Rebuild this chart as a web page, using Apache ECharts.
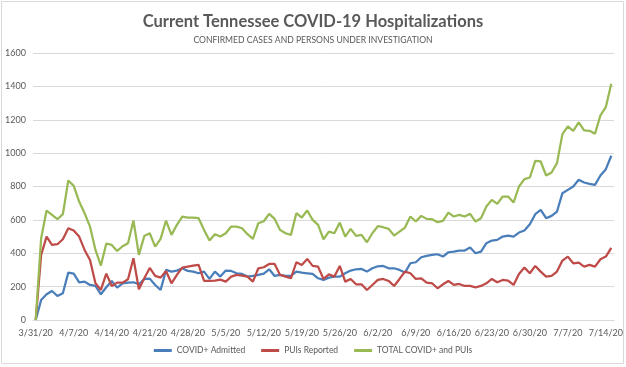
<!DOCTYPE html>
<html>
<head>
<meta charset="utf-8">
<script src="https://cdn.jsdelivr.net/npm/echarts@6/dist/echarts.min.js"></script>
<style>
html,body{margin:0;padding:0;background:#fff;}
#c{width:626px;height:367px;}
</style>
</head>
<body>
<div id="c"></div>
<script>
const categories = ["3/31/20",
"4/1/20","4/2/20","4/3/20","4/4/20","4/5/20","4/6/20","4/7/20","4/8/20","4/9/20","4/10/20",
"4/11/20","4/12/20","4/13/20","4/14/20","4/15/20","4/16/20","4/17/20","4/18/20","4/19/20","4/20/20",
"4/21/20","4/22/20","4/23/20","4/24/20","4/25/20","4/26/20","4/27/20","4/28/20","4/29/20","4/30/20",
"5/1/20","5/2/20","5/3/20","5/4/20","5/5/20","5/6/20","5/7/20","5/8/20","5/9/20","5/10/20",
"5/11/20","5/12/20","5/13/20","5/14/20","5/15/20","5/16/20","5/17/20","5/18/20","5/19/20","5/20/20",
"5/21/20","5/22/20","5/23/20","5/24/20","5/25/20","5/26/20","5/27/20","5/28/20","5/29/20","5/30/20","5/31/20",
"6/1/20","6/2/20","6/3/20","6/4/20","6/5/20","6/6/20","6/7/20","6/8/20","6/9/20","6/10/20",
"6/11/20","6/12/20","6/13/20","6/14/20","6/15/20","6/16/20","6/17/20","6/18/20","6/19/20","6/20/20",
"6/21/20","6/22/20","6/23/20","6/24/20","6/25/20","6/26/20","6/27/20","6/28/20","6/29/20","6/30/20",
"7/1/20","7/2/20","7/3/20","7/4/20","7/5/20","7/6/20","7/7/20","7/8/20","7/9/20","7/10/20",
"7/11/20","7/12/20","7/13/20","7/14/20","7/15/20"];

const covidAdmitted = [0,120,154,174,144,160,284,278,226,230,210,204,154,196,234,194,220,224,226,214,246,
248,210,180,300,290,296,310,294,290,280,290,246,290,260,296,294,280,276,260,264,
270,278,304,264,270,264,264,290,284,280,276,250,240,254,260,260,280,296,304,306,
290,310,322,324,310,310,300,284,340,346,376,384,390,394,380,406,410,416,416,434,
400,410,460,476,480,500,506,500,524,536,574,634,660,610,624,650,760,780,800,840,
824,816,810,866,904,984];

const puisReported = [0,390,500,450,454,484,550,536,500,420,360,220,180,278,204,224,224,244,370,184,250,
312,264,254,294,220,270,314,320,326,330,234,234,236,242,230,260,270,266,260,230,
310,316,336,336,270,260,250,346,330,366,324,320,246,274,260,324,230,246,214,214,
180,210,240,246,234,204,246,290,280,246,250,224,220,190,214,234,210,216,204,204,
196,204,220,246,226,240,236,210,276,314,280,324,290,260,264,290,356,380,340,344,
320,330,320,364,380,432];

const totalCovidPuis = [0,490,656,630,604,634,836,804,710,640,560,420,326,458,450,414,442,460,596,390,504,
520,440,486,596,510,570,620,614,614,610,540,476,514,500,520,560,560,550,514,486,
580,592,636,606,540,520,510,640,614,656,600,570,484,530,520,584,500,546,504,510,
466,520,562,556,546,506,530,554,620,590,624,606,604,586,594,644,620,630,620,636,
590,610,680,720,696,740,740,704,800,844,854,954,950,866,884,940,1114,1160,1134,1184,
1136,1134,1116,1226,1276,1416];

const seriesNames = ["COVID+ Admitted", "PUIs Reported", "TOTAL COVID+ and PUIs"];
const seriesColors = ["#4a7ebb", "#be4b48", "#98b954"];
const yTicks = [0, 200, 400, 600, 800, 1000, 1200, 1400, 1600];

const FONT = "Lato, 'Open Sans', sans-serif";
const lastIdx = categories.length - 1;

function mk(name, data, color) {
  return {
    name: name, type: 'line', data: data, symbol: 'none',
    lineStyle: {width: 2.25, color: color},
    itemStyle: {color: color},
    label: {
      show: true, position: 'top', distance: 6,
      color: '#404040', fontSize: 9.5, fontFamily: FONT,
      formatter: p => p.dataIndex === lastIdx ? String(p.value) : ''
    },
    emphasis: {disabled: true},
    animation: false
  };
}

const chart = echarts.init(document.getElementById('c'), null, {renderer: 'canvas'});
chart.setOption({
  backgroundColor: '#fff',
  animation: false,
  title: [{
    text: 'Current Tennessee COVID-19 Hospitalizations',
    left: 'center', top: 8,
    textStyle: {fontFamily: FONT, fontWeight: 'bold', fontSize: 16.5, color: '#595959'}
  }, {
    text: 'CONFIRMED CASES AND PERSONS UNDER INVESTIGATION',
    left: 'center', top: 31,
    textStyle: {fontFamily: FONT, fontWeight: 'normal', fontSize: 8.6, color: '#595959'}
  }],
  graphic: [{
    type: 'rect', silent: true,
    shape: {x: 1.5, y: 1.5, width: 622, height: 362},
    style: {fill: 'none', stroke: '#d9d9d9', lineWidth: 1}
  }],
  legend: {
    bottom: 7, left: 'center',
    icon: 'rect', itemWidth: 18, itemHeight: 3, itemGap: 16,
    textStyle: {fontFamily: FONT, fontSize: 8.5, color: '#595959'},
    data: seriesNames
  },
  grid: {left: 33, right: 12, top: 53, bottom: 47, containLabel: false},
  xAxis: {
    type: 'category', data: categories, boundaryGap: true,
    axisLine: {lineStyle: {color: '#d9d9d9'}},
    axisTick: {show: false},
    axisLabel: {interval: 6, color: '#595959', fontSize: 9, fontFamily: FONT, margin: 9},
    splitLine: {show: false}
  },
  yAxis: {
    type: 'value', min: yTicks[0], max: yTicks[yTicks.length - 1], interval: 200,
    axisLine: {show: false}, axisTick: {show: false},
    axisLabel: {color: '#595959', fontSize: 9, fontFamily: FONT, margin: 7,
      formatter: v => String(v)},
    splitLine: {lineStyle: {color: '#d9d9d9', width: 1}}
  },
  series: [
    mk(seriesNames[0], covidAdmitted, seriesColors[0]),
    mk(seriesNames[1], puisReported, seriesColors[1]),
    mk(seriesNames[2], totalCovidPuis, seriesColors[2])
  ]
});
</script>
</body>
</html>
